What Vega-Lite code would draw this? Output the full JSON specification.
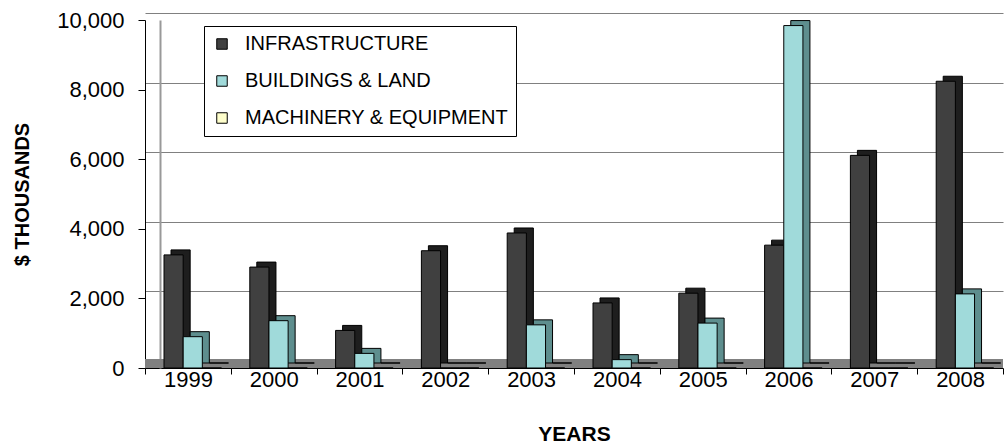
{
  "$schema": "https://vega.github.io/schema/vega-lite/v6.json",
  "autosize": "none",
  "width": 858,
  "height": 348,
  "padding": {"left": 145, "top": 20, "right": 1, "bottom": 76},
  "background": "white",
  "config": {
    "view": {"stroke": null},
    "font": "Liberation Sans",
    "axis": {"labelFont": "Liberation Sans", "titleFont": "Liberation Sans", "labelColor": "black", "titleColor": "black", "domainColor": "black", "tickColor": "black"},
    "legend": {"labelFont": "Liberation Sans"}
  },
  "data": {
    "values": [
      {"year": "1999", "series": "INFRASTRUCTURE", "value": 3250},
      {"year": "1999", "series": "BUILDINGS & LAND", "value": 900},
      {"year": "1999", "series": "MACHINERY & EQUIPMENT", "value": 0},
      {"year": "2000", "series": "INFRASTRUCTURE", "value": 2900},
      {"year": "2000", "series": "BUILDINGS & LAND", "value": 1360},
      {"year": "2000", "series": "MACHINERY & EQUIPMENT", "value": 0},
      {"year": "2001", "series": "INFRASTRUCTURE", "value": 1080},
      {"year": "2001", "series": "BUILDINGS & LAND", "value": 420},
      {"year": "2001", "series": "MACHINERY & EQUIPMENT", "value": 0},
      {"year": "2002", "series": "INFRASTRUCTURE", "value": 3370},
      {"year": "2002", "series": "BUILDINGS & LAND", "value": 0},
      {"year": "2002", "series": "MACHINERY & EQUIPMENT", "value": 0},
      {"year": "2003", "series": "INFRASTRUCTURE", "value": 3880},
      {"year": "2003", "series": "BUILDINGS & LAND", "value": 1240},
      {"year": "2003", "series": "MACHINERY & EQUIPMENT", "value": 0},
      {"year": "2004", "series": "INFRASTRUCTURE", "value": 1870},
      {"year": "2004", "series": "BUILDINGS & LAND", "value": 240},
      {"year": "2004", "series": "MACHINERY & EQUIPMENT", "value": 0},
      {"year": "2005", "series": "INFRASTRUCTURE", "value": 2150},
      {"year": "2005", "series": "BUILDINGS & LAND", "value": 1290},
      {"year": "2005", "series": "MACHINERY & EQUIPMENT", "value": 0},
      {"year": "2006", "series": "INFRASTRUCTURE", "value": 3530},
      {"year": "2006", "series": "BUILDINGS & LAND", "value": 9840},
      {"year": "2006", "series": "MACHINERY & EQUIPMENT", "value": 0},
      {"year": "2007", "series": "INFRASTRUCTURE", "value": 6110},
      {"year": "2007", "series": "BUILDINGS & LAND", "value": 0},
      {"year": "2007", "series": "MACHINERY & EQUIPMENT", "value": 0},
      {"year": "2008", "series": "INFRASTRUCTURE", "value": 8240},
      {"year": "2008", "series": "BUILDINGS & LAND", "value": 2130},
      {"year": "2008", "series": "MACHINERY & EQUIPMENT", "value": 0}
    ]
  },
  "layer": [
    {
      "data": {"values": [{}]},
      "mark": {"type": "rect", "color": "#808080"},
      "encoding": {
        "y": {"datum": 0, "type": "quantitative",
          "axis": {"title": null, "orient": "left", "labels": false, "ticks": false, "domain": true, "domainColor": "#999999", "domainWidth": 2, "offset": -15,
            "grid": true, "gridColor": "#808080", "gridWidth": 1, "tickOffset": -7, "values": [2000, 4000, 6000, 8000, 10000]}},
        "y2": {"datum": 260}
      }
    },
    {
      "mark": {"type": "bar", "stroke": "black", "strokeWidth": 1, "yOffset": -5},
      "encoding": {
        "x": {"field": "year", "type": "nominal"},
        "xOffset": {"field": "series", "type": "nominal", "sort": ["INFRASTRUCTURE", "BUILDINGS & LAND", "MACHINERY & EQUIPMENT"],
          "scale": {"range": [26, 83.5], "paddingInner": 0, "paddingOuter": 0}},
        "y": {"field": "value", "type": "quantitative", "axis": null},
        "color": {"field": "series", "type": "nominal", "legend": null,
          "scale": {"domain": ["INFRASTRUCTURE", "BUILDINGS & LAND", "MACHINERY & EQUIPMENT"], "range": ["#1e1e1e", "#5e8e8e", "#cfcaa0"]}}
      }
    },
    {
      "mark": {"type": "bar", "stroke": "black", "strokeWidth": 1},
      "encoding": {
        "x": {"field": "year", "type": "nominal",
          "scale": {"paddingInner": 0, "paddingOuter": 0},
          "axis": {"title": "YEARS", "labelAngle": 0, "labelAlign": "center", "labelFontSize": 22, "labelPadding": 5, "tickSize": 6, "tickBand": "extent", "bandPosition": 0.5, "titleFontSize": 21, "titleFontWeight": "bold", "titlePadding": 33, "domainWidth": 1}},
        "xOffset": {"field": "series", "type": "nominal", "sort": ["INFRASTRUCTURE", "BUILDINGS & LAND", "MACHINERY & EQUIPMENT"],
          "scale": {"range": [19, 76.5], "paddingInner": 0, "paddingOuter": 0}},
        "y": {"field": "value", "type": "quantitative",
          "scale": {"domain": [0, 10000], "nice": false},
          "axis": {"title": "$ THOUSANDS", "orient": "left", "values": [0, 2000, 4000, 6000, 8000, 10000], "format": ",d", "labelFontSize": 22, "labelPadding": 14, "tickSize": 7, "grid": false, "titleFontSize": 20, "titleFontWeight": "bold", "titlePadding": 24}},
        "color": {"field": "series", "type": "nominal",
          "scale": {"domain": ["INFRASTRUCTURE", "BUILDINGS & LAND", "MACHINERY & EQUIPMENT"], "range": ["#404040", "#a0dada", "#ffffcc"]},
          "legend": {"title": null, "orient": "none", "legendX": 59, "legendY": 6, "direction": "vertical",
            "fillColor": "white", "strokeColor": "black", "padding": 8,
            "symbolType": "square", "symbolSize": 110, "symbolStrokeColor": "black", "symbolStrokeWidth": 1,
            "labelFontSize": 20, "labelColor": "black", "labelOffset": 13, "rowPadding": 17, "labelLimit": 400}}
      }
    }
  ],
  "resolve": {"scale": {"color": "independent", "xOffset": "independent"}, "axis": {"y": "independent"}}
}
